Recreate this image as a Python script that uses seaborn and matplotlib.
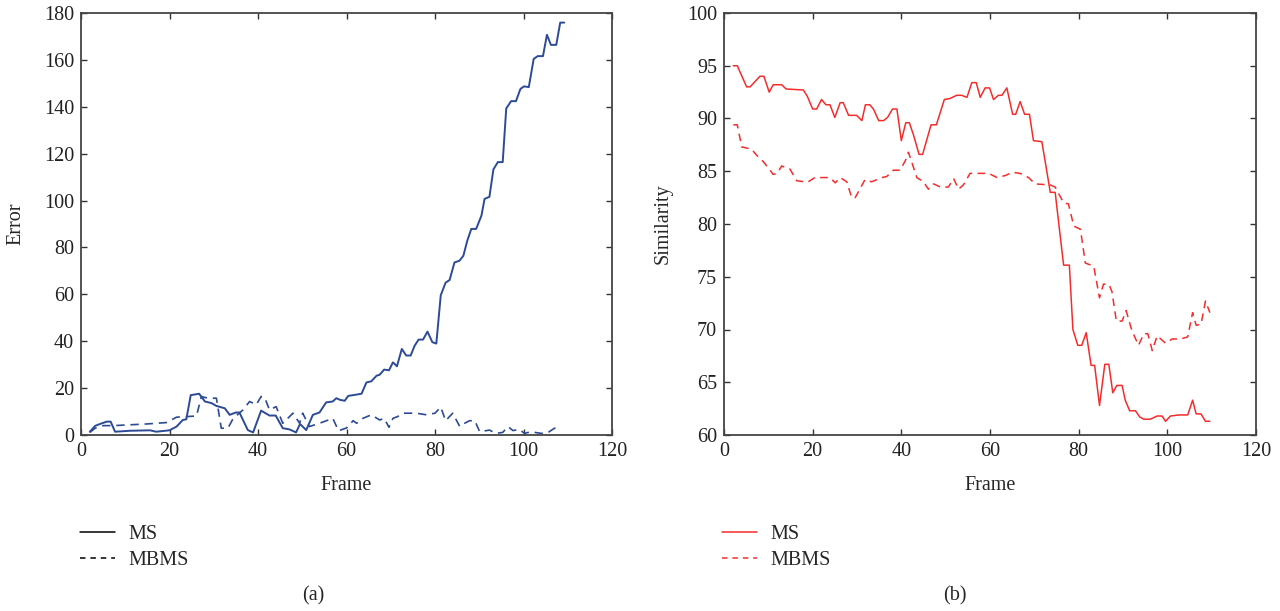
import matplotlib
matplotlib.use("Agg")
import matplotlib.pyplot as plt
import seaborn as sns
import pandas as pd
from matplotlib.lines import Line2D

# ---------------- data ----------------
err_ms_frame = [2, 3.2, 4.3, 5.8, 6.7, 7.7, 11, 15.6, 17, 20, 21.6, 23, 23.8, 24.8, 26.7, 28,
                29.5, 30.6, 32.5, 33.6, 35, 35.8, 37.7, 38.9, 40.7, 42.6, 44, 45.6, 47.1, 48.6,
                49.5, 50.9, 52.4, 53.9, 55.4, 56.9, 57.7, 58.5, 59.6, 60.4, 61.5, 63.4, 64.5,
                65.6, 66.8, 67.5, 68.5, 69.6, 70.5, 71.4, 72.5, 73.5, 74.5, 75.4, 76.3, 77.3,
                78.3, 79.4, 80.3, 81.3, 82.4, 83.3, 84.4, 85.5, 86.4, 87.3, 88.2, 89.3, 90.5,
                91.2, 92.3, 93.2, 94.2, 95.3, 96.1, 97.2, 98.3, 99.3, 100.1, 101.2, 102.3,
                103.2, 104.4, 105.3, 106.2, 107.4, 108.3, 109.2]
err_ms = [1.4, 3.9, 4.7, 5.7, 5.7, 1.4, 1.8, 2.0, 1.4, 2.0, 3.6, 6.4, 6.7, 17.0, 17.6, 14.3,
          13.6, 12.4, 11.4, 8.6, 9.6, 9.6, 2.1, 1.1, 10.4, 8.3, 8.3, 2.9, 2.4, 1.1,
          4.7, 2.1, 8.6, 9.6, 13.9, 14.3, 15.7, 15.0, 14.6, 16.7, 17.0, 17.6, 22.4,
          22.9, 25.3, 25.7, 27.9, 27.6, 31.0, 29.3, 36.7, 33.9, 33.9, 38.1, 40.7, 40.7,
          44.1, 39.6, 39.0, 59.6, 65.0, 66.1, 73.6, 74.3, 76.4, 82.9, 87.9, 87.9, 93.6,
          100.7, 101.6, 113.3, 116.4, 116.4, 139.3, 142.4, 142.4, 147.6, 148.7, 148.4, 160.4,
          161.6, 161.6, 170.7, 166.4, 166.4, 175.9, 175.9]

err_mbms_frame = [2, 3.2, 5, 7.3, 14.8, 19.3, 21.6, 26.1, 27.2, 28.7, 30.6, 31.7, 33.2, 34.4,
                  36.6, 38.1, 39.6, 40.7, 41.5, 42.6, 44.1, 45.6, 47.9, 49.4, 50.1, 51.6, 53.9,
                  56.9, 58.2, 60, 61.5, 62.3, 63.7, 65.6, 67.5, 68.5, 69.6, 70.5, 71.6, 72.7,
                  75.8, 78.1, 80, 81.3, 82.4, 84, 85.6, 86.7, 87.8, 89, 90.1, 92.3, 93.8, 95.3,
                  96.5, 97.6, 99.1, 100.2, 101.7, 102.9, 104, 105.5, 107, 108.5]
err_mbms = [1.1, 2.9, 4.0, 4.0, 4.7, 5.3, 7.6, 8.1, 16.4, 15.7, 15.7, 2.9, 2.9, 7.1,
            10.7, 14.3, 12.9, 16.4, 16.0, 10.7, 12.1, 5.0, 9.3, 5.0, 9.3, 3.6, 5.0,
            7.1, 1.8, 3.0, 6.1, 5.0, 7.1, 8.6, 6.4, 7.1, 3.3, 7.1, 7.9, 9.3,
            9.3, 8.6, 9.3, 11.9, 6.1, 9.3, 3.6, 5.0, 6.1, 6.1, 1.4, 2.1, 0.7, 1.1,
            3.6, 1.9, 2.4, 0.7, 1.4, 1.0, 0.7, 1.0, 2.9, 2.1]

sim_ms_frame = [2.1, 3, 5.1, 5.9, 8.1, 9, 10.2, 11.1, 13, 14, 17.9, 18.8, 20, 20.9, 22, 23,
                23.9, 25, 26.2, 26.9, 28.1, 29.9, 31.1, 31.9, 32.9, 33.7, 34.9, 36, 36.9, 38,
                39, 40, 41, 41.8, 42.7, 44, 44.8, 46.7, 47.9, 49.7, 51, 52.5, 53.6, 54.8,
                55.9, 56.9, 57.8, 58.9, 59.9, 60.8, 61.9, 62.7, 63.8, 65.1, 65.8, 66.8, 67.8,
                68.9, 69.8, 71.7, 73.6, 74.7, 76.6, 77.9, 78.7, 79.8, 80.7, 81.7, 82.8, 83.6,
                84.7, 85.9, 86.8, 87.7, 88.6, 89.8, 90.5, 91.5, 92.8, 93.8, 94.7, 96.2, 97.7,
                98.8, 99.6, 100.7, 102.6, 104.6, 105.7, 106.5, 107.6, 108.6, 109.6]
sim_ms = [95.0, 95.0, 93.0, 93.0, 94.0, 94.0, 92.5, 93.2, 93.2, 92.8, 92.7, 92.1, 90.9, 90.9,
          91.8, 91.3, 91.3, 90.1, 91.5, 91.5, 90.3, 90.3, 89.8, 91.3, 91.3, 90.9, 89.8, 89.8,
          90.1, 90.9, 90.9, 87.9, 89.6, 89.6, 88.5, 86.6, 86.6, 89.4, 89.4, 91.8, 91.9, 92.2,
          92.2, 92.0, 93.4, 93.4, 92.0, 92.9, 92.9, 91.8, 92.2, 92.2, 92.9, 90.4, 90.4, 91.6,
          90.4, 90.4, 87.9, 87.8, 83.0, 83.0, 76.1, 76.1, 70.0, 68.5, 68.5, 69.7, 66.6, 66.6,
          62.8, 66.7, 66.7, 64.0, 64.7, 64.7, 63.3, 62.3, 62.3, 61.7, 61.5, 61.5, 61.8, 61.8,
          61.3, 61.8, 61.9, 61.9, 63.3, 62.0, 62.0, 61.3, 61.3]

sim_mbms_frame = [2.1, 3, 4, 6.2, 7.4, 8.9, 11.1, 12, 13, 14.9, 16.4, 18.3, 19, 20.5, 23.9,
                  25.1, 26.2, 27.7, 28.8, 29.6, 31.8, 33.3, 35.6, 36.7, 38.2, 39.7, 40.9, 41.6,
                  42.4, 43.5, 45, 46.1, 47.3, 48.8, 50.6, 51.8, 52.9, 54, 55.5, 57.8, 59.7,
                  61.6, 63.5, 65, 66.8, 68.7, 70.2, 73.6, 74.7, 76.6, 77.7, 78.9, 80.4, 81.5,
                  83.4, 84.7, 85.6, 86.8, 87.5, 88.5, 89.8, 90.7, 92, 93.5, 94.7, 95.6, 96.6,
                  97.7, 99.6, 101.1, 103, 104.6, 105.7, 106.5, 107.6, 108.6, 109.6]
sim_mbms = [89.4, 89.4, 87.3, 87.1, 86.5, 85.9, 84.7, 84.8, 85.5, 85.2, 84.1, 84.0, 84.0,
            84.4, 84.4, 83.9, 84.4, 84.0, 82.5, 82.5, 84.2, 84.0, 84.4, 84.5, 85.1, 85.1,
            86.0, 86.8, 85.8, 84.4, 84.0, 83.3, 83.8, 83.5, 83.5, 84.3, 83.3, 83.7, 84.8,
            84.8, 84.8, 84.4, 84.6, 84.9, 84.8, 84.4, 83.8, 83.7, 83.5, 82.0, 81.9, 79.8,
            79.5, 76.3, 76.0, 73.0, 74.3, 74.3, 73.6, 70.8, 70.8, 71.8, 69.9, 68.5, 69.6,
            69.6, 68.0, 69.4, 68.7, 69.1, 69.1, 69.3, 71.6, 70.4, 70.5, 72.7, 71.6]

series_labels = ["MS", "MBMS"]
x_label = "Frame"
y_labels = ["Error", "Similarity"]
panel_labels = ["(a)", "(b)"]

# ---------------- style ----------------
sns.set_theme(style="ticks")
plt.rcParams["font.family"] = ["Liberation Serif", "DejaVu Serif"]
plt.rcParams.update({
    "xtick.direction": "in", "ytick.direction": "in",
    "xtick.top": True, "ytick.right": True,
    "xtick.major.size": 4, "ytick.major.size": 4,
    "xtick.major.width": 1.0, "ytick.major.width": 1.0,
    "axes.edgecolor": "#444444", "axes.linewidth": 1.3,
    "xtick.color": "#333333", "ytick.color": "#333333",
    "xtick.labelcolor": "#222222", "ytick.labelcolor": "#222222",
    "font.size": 14.5,
})

FS = 14.5
BLUE = "#2c4a96"
RED = "#f52c2c"
DASH = (0, (5, 3.5))

fig = plt.figure(figsize=(12.8, 6.11), dpi=100)
ax1 = fig.add_axes([81 / 1280, 1 - 435 / 611, 531 / 1280, 422 / 611])
ax2 = fig.add_axes([724 / 1280, 1 - 435 / 611, 532 / 1280, 422 / 611])

df_err_ms = pd.DataFrame({"Frame": err_ms_frame, "v": err_ms})
df_err_mbms = pd.DataFrame({"Frame": err_mbms_frame, "v": err_mbms})
df_sim_ms = pd.DataFrame({"Frame": sim_ms_frame, "v": sim_ms})
df_sim_mbms = pd.DataFrame({"Frame": sim_mbms_frame, "v": sim_mbms})

sns.lineplot(data=df_err_ms, x="Frame", y="v", ax=ax1, color=BLUE, lw=1.4, linestyle="-")
sns.lineplot(data=df_err_mbms, x="Frame", y="v", ax=ax1, color=BLUE, lw=1.2, linestyle=DASH)
sns.lineplot(data=df_sim_ms, x="Frame", y="v", ax=ax2, color=RED, lw=1.1, linestyle="-")
sns.lineplot(data=df_sim_mbms, x="Frame", y="v", ax=ax2, color=RED, lw=1.1, linestyle=DASH)

for ax, ylab, ylim, yt, yc in [(ax1, y_labels[0], (0, 180), range(0, 181, 20), -0.105),
                                (ax2, y_labels[1], (60, 100), range(60, 101, 5), -0.096)]:
    ax.set_xlim(0, 120)
    ax.set_ylim(*ylim)
    ax.set_xticks(range(0, 121, 20))
    ax.set_yticks(list(yt))
    ax.tick_params(labelsize=FS, pad=5)
    ax.set_xlabel(x_label, fontsize=FS)
    ax.set_ylabel(ylab, fontsize=FS)
    ax.xaxis.set_label_coords(0.5, -0.098)
    ax.yaxis.set_label_coords(yc, 0.5)
    for s in ax.spines.values():
        s.set_visible(True)

# legends under each panel
for ax, col, x0 in [(ax1, "black", 80), (ax2, RED, 722)]:
    handles = [Line2D([], [], color=col, lw=1.1, linestyle="-"),
               Line2D([], [], color=col, lw=1.1, linestyle=(0, (3.6, 3.2)))]
    ax.legend(handles, series_labels, loc="upper left",
              bbox_to_anchor=(x0 / 1280, 1 - 525 / 611), bbox_transform=fig.transFigure,
              frameon=False, fontsize=FS, handlelength=1.75, handletextpad=0.65,
              borderpad=0, borderaxespad=0, labelspacing=0.32)

fig.text(313 / 1280, 1 - 596 / 611, panel_labels[0], ha="center", va="center", fontsize=FS)
fig.text(955 / 1280, 1 - 596 / 611, panel_labels[1], ha="center", va="center", fontsize=FS)

fig.savefig("out.png", dpi=100)
